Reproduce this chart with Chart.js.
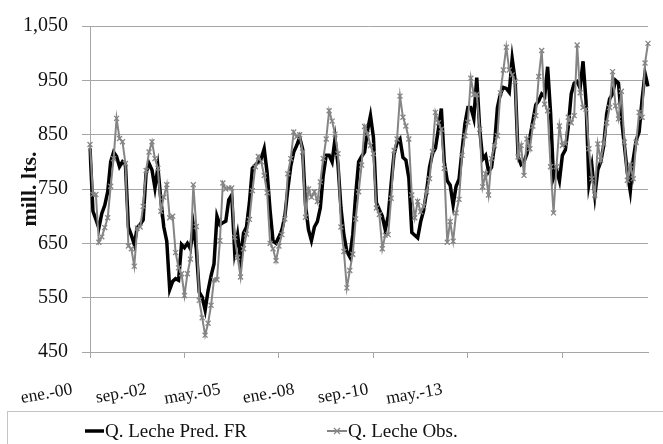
<!DOCTYPE html>
<html>
<head>
<meta charset="utf-8">
<script src="https://cdn.jsdelivr.net/npm/chart.js@4.4.1/dist/chart.umd.min.js"></script>
<style>
  html, body { margin: 0; padding: 0; background: #ffffff; }
  #wrap { width: 663px; height: 444px; position: relative; }
</style>
</head>
<body>
<div id="wrap"><canvas id="c" width="663" height="444"></canvas></div>
<script>
// Monthly series, Jan 2000 - Oct 2015 (millions of litres)
const monthNames = ['ene.', 'feb.', 'mar.', 'abr.', 'may.', 'jun.', 'jul.', 'ago.', 'sep.', 'oct.', 'nov.', 'dic.'];
const firstYear = 2000;
const monthCount = 190;

const categories = [];
for (let i = 0; i < monthCount; i++) {
  const yy = String((firstYear + Math.floor(i / 12)) % 100).padStart(2, '0');
  categories.push(monthNames[i % 12] + '-' + yy);
}

// Axis labels shown under the time axis
const tickLabels = ['ene.-00', 'sep.-02', 'may.-05', 'ene.-08', 'sep.-10', 'may.-13'];
const tickEvery = 32;

// Predicted volume
const predFR = [
  825, 709, 694, 678, 705, 720, 745, 800, 818, 810, 791, 800,
  795, 680, 665, 648, 679, 685, 693, 780, 797, 785, 752, 790,
  730, 680, 654, 565, 580, 585, 582, 648, 642, 650, 640, 682,
  640, 560, 551, 527, 563, 590, 612, 700, 684, 688, 691, 730,
  739, 635, 666, 621, 669, 680, 725, 788, 794, 800, 806, 824,
  780, 710, 654, 650, 662, 675, 700, 750, 792, 818, 830, 845,
  824, 720, 675, 655, 680, 690, 715, 775, 812, 812, 800, 842,
  795, 715, 665, 635, 625, 666, 740, 800, 810, 818, 858, 885,
  845, 725, 712, 700, 675, 700, 760, 815, 835, 842, 808, 803,
  770, 670, 665, 660, 690, 710, 745, 790, 815, 825, 860, 898,
  800, 765, 757, 721, 755, 768, 820, 870, 900, 900, 880, 955,
  860, 805, 812, 782, 790, 830, 900, 925, 937, 935, 928, 990,
  950, 810, 795, 800, 815, 845, 875, 905, 912, 925, 920, 975,
  890, 770, 785, 765, 812, 822, 865, 925, 945, 948, 936, 985,
  912, 760, 792, 738, 785, 800, 830, 888, 916, 925, 950, 945,
  880, 830, 780, 746, 805, 840, 855, 915, 963, 939
];

// Observed volume
const observed = [
  832, 740, 740, 652, 662, 679, 697, 755, 806, 880, 843, 837,
  797, 645, 640, 608, 678, 680, 718, 784, 818, 837, 806, 788,
  709, 735, 758, 697, 700, 633, 605, 594, 554, 594, 621, 758,
  681, 545, 513, 481, 503, 536, 583, 583, 655, 761, 750, 752,
  752, 661, 624, 588, 640, 667, 694, 747, 791, 810, 800, 775,
  743, 650, 640, 618, 645, 666, 695, 778, 806, 855, 846, 850,
  818, 698, 750, 735, 745, 727, 763, 806, 842, 894, 875, 851,
  815, 680, 635, 568, 600, 630, 695, 745, 794, 865, 852, 830,
  815, 715, 703, 640, 665, 666, 733, 821, 842, 921, 882, 866,
  842, 739, 697, 727, 708, 718, 745, 769, 819, 891, 872, 860,
  788, 652, 690, 654, 706, 731, 812, 848, 873, 954, 924, 924,
  860, 754, 778, 739, 806, 830, 848, 927, 969, 1011, 969, 960,
  948, 809, 830, 775, 842, 824, 866, 885, 957, 1005, 906, 894,
  791, 706, 791, 866, 830, 833, 882, 872, 885, 1015, 927, 900,
  897, 824, 769, 739, 833, 803, 833, 872, 900, 966, 903, 879,
  930, 836, 766, 794, 769, 836, 891, 882, 982, 1018
];

const seriesNames = ['Q. Leche Pred. FR', 'Q. Leche Obs.'];

const GRID = '#a6a6a6';
const OBS = '#858585';
const SERIF = '"Liberation Serif", "Times New Roman", serif';

Chart.defaults.font.family = SERIF;
Chart.defaults.color = '#111111';

// Rotated date labels under the axis and the boxed legend below them
const decorations = {
  id: 'decorations',
  afterDraw(chart) {
    const { ctx, chartArea } = chart;
    ctx.save();
    // date labels
    ctx.fillStyle = '#111111';
    ctx.font = '17.5px ' + SERIF;
    ctx.textAlign = 'right';
    ctx.textBaseline = 'alphabetic';
    tickLabels.forEach((t, j) => {
      const x = chartArea.left - 17 + j * 74;
      const y = chartArea.bottom + 42;
      ctx.save();
      ctx.translate(x, y);
      ctx.rotate(-10 * Math.PI / 180);
      ctx.fillText(t, 0, 0);
      ctx.restore();
    });

    // legend frame
    ctx.strokeStyle = '#c4c4c4';
    ctx.lineWidth = 1;
    ctx.strokeRect(7.5, 411.5, 720, 60);

    const ly = 431;
    ctx.font = '19px ' + SERIF;
    ctx.textAlign = 'left';
    ctx.textBaseline = 'middle';

    // predicted
    ctx.strokeStyle = '#000000';
    ctx.lineWidth = 3.5;
    ctx.beginPath();
    ctx.moveTo(85, ly);
    ctx.lineTo(104, ly);
    ctx.stroke();
    ctx.fillStyle = '#111111';
    ctx.fillText(seriesNames[0], 105, ly + 1);

    // observed
    ctx.strokeStyle = OBS;
    ctx.lineWidth = 2;
    ctx.beginPath();
    ctx.moveTo(327, ly);
    ctx.lineTo(347, ly);
    ctx.stroke();
    ctx.lineWidth = 1.2;
    ctx.beginPath();
    ctx.moveTo(334, ly - 3);
    ctx.lineTo(340, ly + 3);
    ctx.moveTo(334, ly + 3);
    ctx.lineTo(340, ly - 3);
    ctx.stroke();
    ctx.fillText(seriesNames[1], 348, ly + 1);
    ctx.restore();
  }
};

new Chart(document.getElementById('c'), {
  type: 'line',
  data: {
    labels: categories,
    datasets: [
      {
        label: seriesNames[0],
        data: predFR,
        borderColor: '#000000',
        borderWidth: 3.5,
        pointRadius: 0,
        tension: 0,
        order: 1
      },
      {
        label: seriesNames[1],
        data: observed,
        borderColor: OBS,
        borderWidth: 2,
        pointStyle: 'crossRot',
        pointRadius: 3.5,
        pointBorderWidth: 1.3,
        pointBorderColor: OBS,
        pointBackgroundColor: OBS,
        tension: 0,
        order: 0
      }
    ]
  },
  options: {
    responsive: false,
    devicePixelRatio: 1,
    animation: false,
    layout: { padding: { top: 23, right: 15, left: 0, bottom: 0 } },
    plugins: {
      legend: { display: false },
      tooltip: { enabled: false }
    },
    scales: {
      x: {
        type: 'category',
        offset: false,
        ticks: { display: false, autoSkip: false },
        grid: {
          drawOnChartArea: false,
          drawTicks: true,
          tickLength: 6,
          color: (c) => (c.index % tickEvery === 0 ? GRID : 'rgba(0,0,0,0)'),
          tickColor: (c) => (c.index % tickEvery === 0 ? GRID : 'rgba(0,0,0,0)')
        },
        border: { display: true, color: GRID, width: 1 },
        afterFit: (s) => { s.height = 92; }
      },
      y: {
        min: 450,
        max: 1050,
        ticks: {
          stepSize: 100,
          padding: 14,
          color: '#111111',
          font: { family: SERIF, size: 20 }
        },
        grid: { color: GRID, lineWidth: 1, tickLength: 8 },
        border: { display: true, color: GRID, width: 1 },
        title: {
          display: true,
          text: 'mill. lts.',
          color: '#111111',
          font: { family: SERIF, size: 22, weight: 'bold' },
          padding: { top: 17, bottom: 0 }
        },
        afterFit: (s) => { s.width = 90; }
      }
    }
  },
  plugins: [decorations]
});
</script>
</body>
</html>
